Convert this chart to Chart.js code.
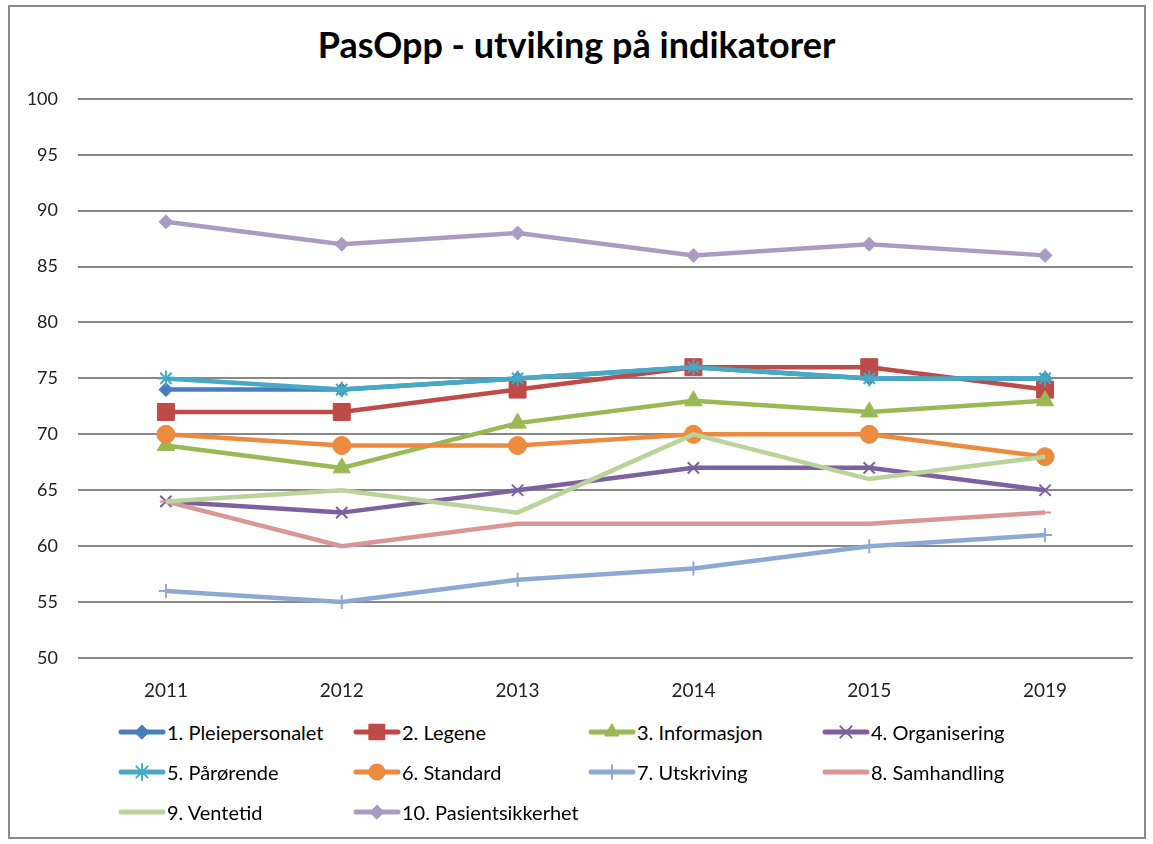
<!DOCTYPE html>
<html>
<head>
<meta charset="utf-8">
<script src="https://cdn.jsdelivr.net/npm/chart.js@4/dist/chart.umd.min.js"></script>
<style>
    html, body { margin: 0; padding: 0; background: #fff; }
    #frame {
        position: absolute; left: 8px; top: 5px; width: 1138px; height: 834px;
        border: 2px solid #8a8a8a; box-sizing: border-box;
    }
    #title {
        position: absolute; left: 0; top: 22px; width: 1153px; text-align: center;
        font-family: Lato, "Open Sans", sans-serif; font-weight: bold; font-size: 36px; color: #000;
    }
    #wrap { position: absolute; left: 0; top: 68px; width: 1153px; height: 640px; }
    #legend {
        position: absolute; left: 118px; top: 718px;
        display: grid; grid-template-columns: 235px 235px 234px 240px; grid-auto-rows: 40px;
        font-family: Lato, "Open Sans", sans-serif; font-size: 20px; color: #000;
    }
    .item { display: flex; align-items: center; height: 28px; white-space: nowrap; }
    .item canvas { margin-right: 1px; }
</style>
</head>
<body>
<div id="frame"></div>
<div id="title">PasOpp - utviking på indikatorer</div>
<div id="wrap"><canvas id="myChart"></canvas></div>
<div id="legend"></div>

<script>
// aar og verdier lest av figuren
const aar = ["2011", "2012", "2013", "2014", "2015", "2019"];
const navn = ["1. Pleiepersonalet", "2. Legene", "3. Informasjon", "4. Organisering", "5. Pårørende",
              "6. Standard", "7. Utskriving", "8. Samhandling", "9. Ventetid", "10. Pasientsikkerhet"];
const pleiepersonalet = [74, 74, 75, 76, 75, 75];
const legene = [72, 72, 74, 76, 76, 74];
const informasjon = [69, 67, 71, 73, 72, 73];
const organisering = [64, 63, 65, 67, 67, 65];
const parorende = [75, 74, 75, 76, 75, 75];
const standard = [70, 69, 69, 70, 70, 68];
const utskriving = [56, 55, 57, 58, 60, 61];
const samhandling = [64, 60, 62, 62, 62, 63];
const ventetid = [64, 65, 63, 70, 66, 68];
const pasientsikkerhet = [89, 87, 88, 86, 87, 86];
const yTicks = [50, 55, 60, 65, 70, 75, 80, 85, 90, 95, 100];

const serier = [pleiepersonalet, legene, informasjon, organisering, parorende,
                standard, utskriving, samhandling, ventetid, pasientsikkerhet];
const farger = ["#4a7ebb", "#be4b48", "#98b954", "#7d60a0", "#46aac5",
                "#ec8a3f", "#8ea8d4", "#d99694", "#b9d39a", "#a99bc4"];
const punkter = ["rectRot", "rect", "triangle", "crossRot", "star",
                 "circle", "cross", "line", false, "rectRot"];
const radier = [7, 12, 10, 8, 8, 9, 7, 6, 0, 7];

const fontFam = "Lato, 'Open Sans', sans-serif";

var datasets = serier.map(function (verdier, i) {
    return {
        label: navn[i],
        data: verdier,
        borderColor: farger[i],
        backgroundColor: farger[i],
        borderWidth: 4.5,
        pointStyle: punkter[i],
        pointRadius: radier[i],
        pointHoverRadius: radier[i],
        pointBorderWidth: (punkter[i] === "cross" || punkter[i] === "crossRot" || punkter[i] === "star" || punkter[i] === "line") ? 2 : 1,
        pointBorderColor: farger[i],
        pointBackgroundColor: farger[i],
        tension: 0,
        order: 10 - i
    };
});

var ctx = document.getElementById('myChart').getContext('2d');
var myChart = new Chart(ctx, {
    type: 'line',
    data: { labels: aar, datasets: datasets },
    options: {
        responsive: true,
        maintainAspectRatio: false,
        animation: false,
        layout: { padding: { top: 10, right: 20, left: 0, bottom: 0 } },
        plugins: {
            legend: { display: false },
            title: { display: false },
            tooltip: { enabled: false }
        },
        scales: {
            x: {
                offset: true,
                grid: { display: false, drawTicks: false },
                border: { display: false },
                ticks: { padding: 21, color: '#222', font: { family: fontFam, size: 19 } },
                afterFit: function (axis) { axis.height = 50; }
            },
            y: {
                min: 50,
                max: 100,
                afterBuildTicks: function (axis) { axis.ticks = yTicks.map(function (v) { return { value: v }; }); },
                grid: { color: '#888888', lineWidth: 2, drawTicks: false },
                border: { display: false },
                ticks: { padding: 20, color: '#222', font: { family: fontFam, size: 18 } },
                afterFit: function (axis) { axis.width = 78; }
            }
        }
    }
});

// forklaring i rutenett, 4 kolonner
var legend = document.getElementById('legend');
datasets.forEach(function (ds) {
    var item = document.createElement('div');
    item.className = 'item';
    var c = document.createElement('canvas');
    c.width = 48; c.height = 28;
    var g = c.getContext('2d');
    g.strokeStyle = ds.borderColor;
    g.lineWidth = 5;
    g.lineCap = 'round';
    g.beginPath(); g.moveTo(3, 14); g.lineTo(45, 14); g.stroke();
    if (ds.pointStyle && Chart.helpers && Chart.helpers.drawPoint) {
        g.fillStyle = ds.backgroundColor;
        g.lineWidth = ds.pointBorderWidth;
        var r = ds.pointStyle === 'rect' ? 11 : (ds.pointStyle === 'line' ? 0 : Math.min(ds.pointRadius, 8));
        if (r > 0) Chart.helpers.drawPoint(g, { pointStyle: ds.pointStyle, radius: r, borderWidth: ds.pointBorderWidth }, 24, 14);
        g.fill();
    }
    var t = document.createElement('span');
    t.textContent = ds.label;
    item.appendChild(c);
    item.appendChild(t);
    legend.appendChild(item);
});
</script>
</body>
</html>
